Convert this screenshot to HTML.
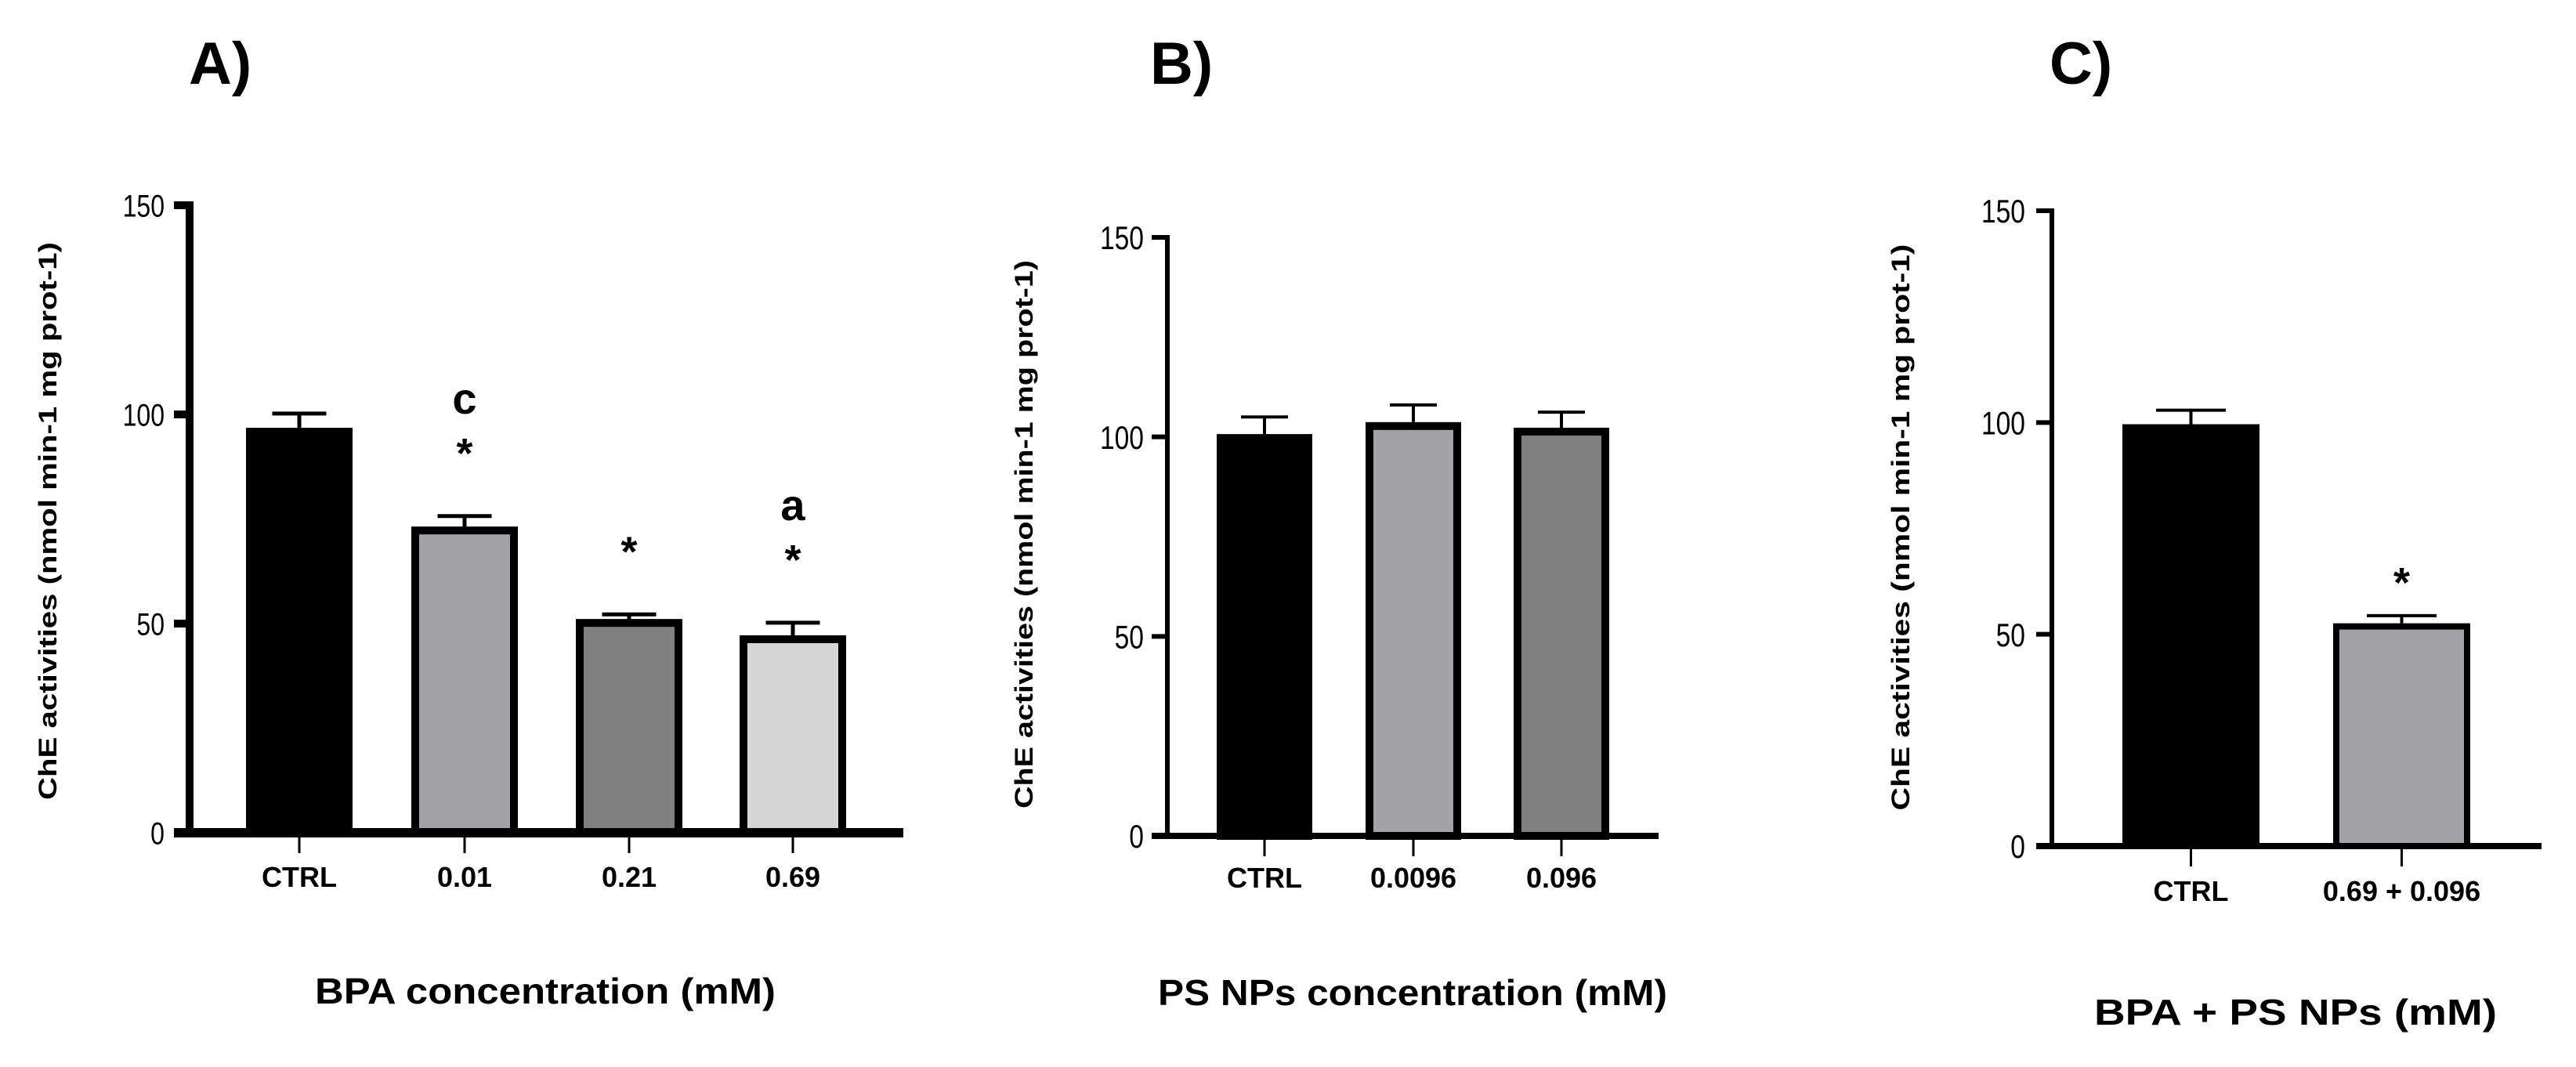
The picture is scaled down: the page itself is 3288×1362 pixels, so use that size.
<!DOCTYPE html>
<html><head><meta charset="utf-8"><style>
html,body{margin:0;padding:0;background:#fff;}
svg{display:block;}
text{font-family:"Liberation Sans",sans-serif;fill:#000;}
</style></head><body>
<svg id="fig" width="3288" height="1362" viewBox="0 0 3288 1362" xmlns="http://www.w3.org/2000/svg"></svg>
<script>
// ---- data ----
const catsA = ["CTRL", "0.01", "0.21", "0.69"];
const valsA = [96.8, 73.2, 51.1, 47.2];
const errsA = [3.4, 2.5, 1.1, 3.0];
const annotA = [[], ["c", "*"], ["*"], ["a", "*"]];

const catsB = ["CTRL", "0.0096", "0.096"];
const valsB = [100.7, 103.7, 102.3];
const errsB = [4.3, 4.3, 3.9];
const annotB = [[], [], []];

const catsC = ["CTRL", "0.69 + 0.096"];
const valsC = [99.6, 52.6];
const errsC = [3.3, 1.8];
const annotC = [[], ["*"]];

const yTicks = [0, 50, 100, 150];

// ---- layout ----
const NS = "http://www.w3.org/2000/svg";
const svg = document.getElementById("fig");
function mk(tag, attrs, parent) {
  const e = document.createElementNS(NS, tag);
  for (const k in attrs) e.setAttribute(k, attrs[k]);
  (parent || svg).appendChild(e);
  return e;
}

const panels = [
  {id:"a", letter:"A)", lx:241, cats:catsA, vals:valsA, errs:errsA, ann:annotA,
   ax:242, y0:1063, y150:262, xEnd:1153, axW:10, barL:[314,525,735,944], barW:136,
   fills:["#000000","#a3a2a7","#808080","#d6d6d6"], bStroke:10, capW:69, errW:5,
   tickR:210, tickFont:40, labY:1132, labFont:36, title:"BPA concentration (mM)", tx:696, ty:1281, tLen:588,
   yTx:60, yTy:665, yLen:712, starOff:92, letterOff:145},
  {id:"b", letter:"B)", lx:1468, cats:catsB, vals:valsB, errs:errsB, ann:annotB,
   ax:1490, y0:1067, y150:303, xEnd:2117, axW:6, barL:[1553,1743,1932], barW:122,
   fills:["#000000","#a3a2a7","#808080"], bStroke:10, capW:60, errW:4,
   tickR:1460, tickFont:42, labY:1133, labFont:36, title:"PS NPs concentration (mM)", tx:1803, ty:1283, tLen:650,
   yTx:1306, yTy:682, yLen:700, starOff:90, letterOff:145},
  {id:"c", letter:"C)", lx:2616, cats:catsC, vals:valsC, errs:errsC, ann:annotC,
   ax:2619, y0:1080, y150:269, xEnd:3244, axW:6, barL:[2709,2978], barW:175,
   fills:["#000000","#a3a2a7"], bStroke:8, capW:89, errW:4,
   tickR:2585, tickFont:42, labY:1150, labFont:36, title:"BPA + PS NPs (mM)", tx:2930, ty:1308, tLen:514,
   yTx:2425, yTy:673, yLen:723, starOff:54, letterOff:110}
];

panels.forEach(p => {
  const g = mk("g", {});
  
  
  const sy = v => p.y0 - (v / 150) * (p.y0 - p.y150);

  const letter = mk("text", {x:p.lx, y:107, "font-size":76, "font-weight":"bold"}, g);
  letter.textContent = p.letter;
  
  

  p.vals.forEach((v, i) => {
    const x = p.barL[i], w = p.barW, top = sy(v), s = p.bStroke;
    const cx = x + w / 2;
    const eb = mk("g", {}, g);
    
    
    const et = sy(v + p.errs[i]);
    mk("line", {x1:cx, x2:cx, y1:top, y2:et, stroke:"#000", "stroke-width":p.errW}, eb);
    mk("line", {x1:cx - p.capW/2, x2:cx + p.capW/2, y1:et, y2:et, stroke:"#000", "stroke-width":p.errW}, eb);
    const r = mk("rect", {x:x + s/2, y:top + s/2, width:w - s, height:Math.max(0, p.y0 - top - s/2), fill:p.fills[i], stroke:"#000", "stroke-width":s}, g);
    
    
    p.ann[i].forEach(t => {
      const isStar = t === "*";
      const center = et - (isStar ? p.starOff : p.letterOff);
      const a = mk("text", {x:cx, y: isStar ? center + 30 : center + 14, "font-size": isStar ? 54 : 56, "font-weight":"bold", "text-anchor":"middle"}, g);
      a.textContent = t;
      
      
    });
    mk("line", {x1:cx, x2:cx, y1:p.y0, y2:p.y0 + 26, stroke:"#000", "stroke-width":3}, g);
    const lab = mk("text", {x:cx, y:p.labY, "font-size":p.labFont, "font-weight":"bold", "text-anchor":"middle"}, g);
    lab.textContent = p.cats[i];
    
    
  });

  const ya = mk("line", {x1:p.ax, x2:p.ax, y1:p.y150 - p.axW/2, y2:p.y0 + p.axW/2, stroke:"#000", "stroke-width":p.axW}, g);
  
  
  const xa = mk("line", {x1:p.ax - 20, x2:p.xEnd, y1:p.y0, y2:p.y0, stroke:"#000", "stroke-width":p.axW + 2}, g);
  
  
  yTicks.forEach(t => {
    const y = sy(t);
    mk("line", {x1:p.ax - 20, x2:p.ax, y1:y, y2:y, stroke:"#000", "stroke-width":p.axW}, g);
    const tl = mk("text", {x:p.tickR, y:y + p.tickFont * 0.36, "font-size":p.tickFont, "text-anchor":"end", transform:`translate(${p.tickR} 0) scale(0.8 1) translate(${-p.tickR} 0)`}, g);
    tl.textContent = t;
    
    
  });

  const yt = mk("text", {x:0, y:0, "font-size":32, "font-weight":"bold", "text-anchor":"middle", textLength:p.yLen, lengthAdjust:"spacingAndGlyphs", transform:`translate(${p.yTx + 12} ${p.yTy}) rotate(-90)`}, g);
  yt.textContent = "ChE activities (nmol min-1 mg prot-1)";
  
  

  const xt = mk("text", {x:p.tx, y:p.ty, "font-size":46, "font-weight":"bold", "text-anchor":"middle", textLength:p.tLen, lengthAdjust:"spacingAndGlyphs"}, g);
  xt.textContent = p.title;
  
  
});
</script>
</body></html>
